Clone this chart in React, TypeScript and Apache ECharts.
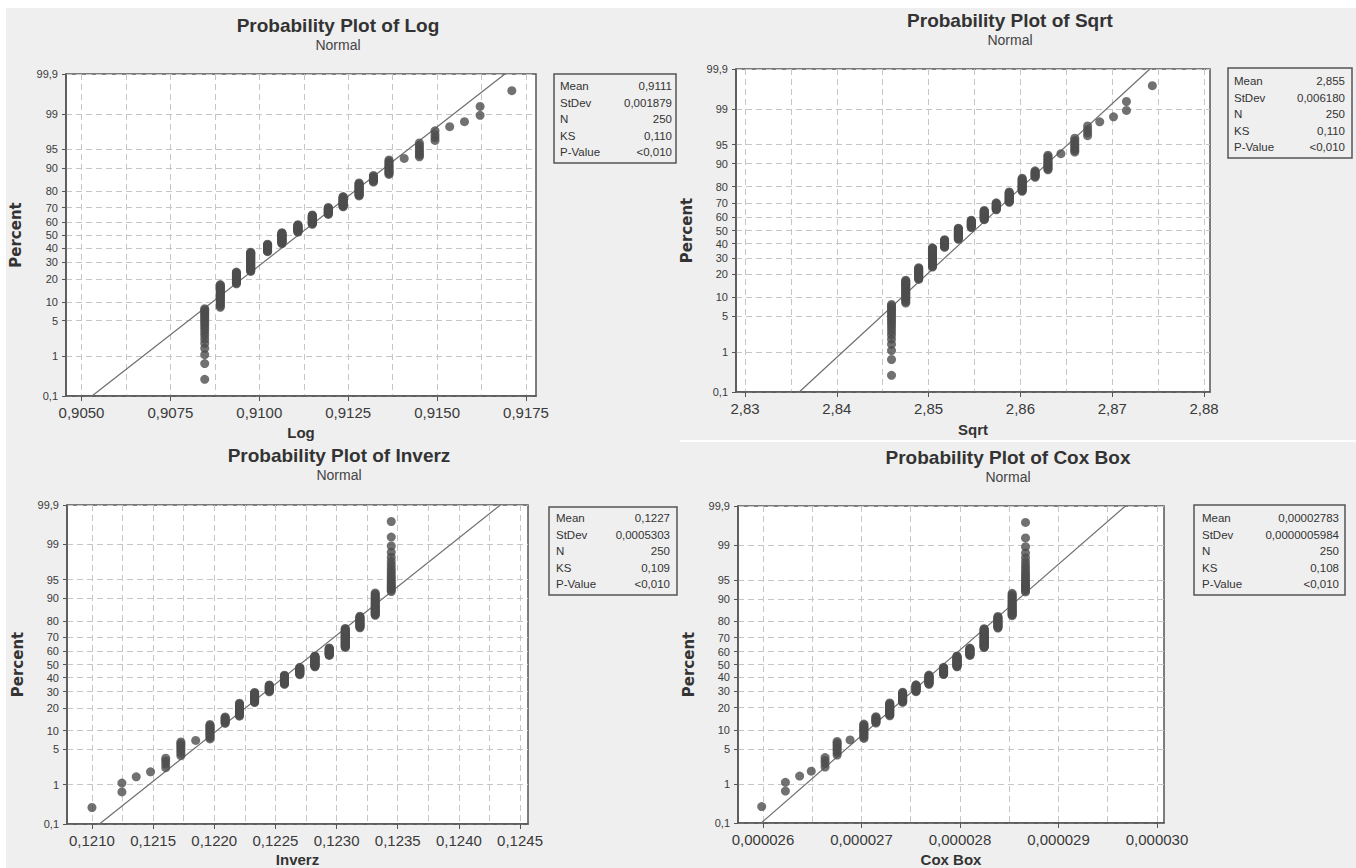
import React, { useEffect, useRef } from "react";
import * as echarts from "echarts";

// ---------- data ----------
const percentTicks = [0.1, 1, 5, 10, 20, 30, 40, 50, 60, 70, 80, 90, 95, 99, 99.9];
const percentLabels = ["0,1", "1", "5", "10", "20", "30", "40", "50", "60", "70", "80", "90", "95", "99", "99,9"];
const statNames = ["Mean", "StDev", "N", "KS", "P-Value"];

// Log
const logValues = [0.908465, 0.908903, 0.909356, 0.909758, 0.910233, 0.910636, 0.911085, 0.91149, 0.91194, 0.912357, 0.912806, 0.913209, 0.913647, 0.914075, 0.914502, 0.914941, 0.915354, 0.91577, 0.916209, 0.917101];
const logCounts = [20, 23, 17, 33, 15, 22, 15, 18, 13, 17, 18, 8, 13, 1, 8, 4, 1, 1, 2, 1];
const logMean = 0.9111;
const logStDev = 0.001879;
const logStats = ["0,9111", "0,001879", "250", "0,110", "<0,010"];
const logTicks = [0.905, 0.9075, 0.91, 0.9125, 0.915, 0.9175];
const logGridlines = [0.905, 0.90625, 0.9075, 0.90875, 0.91, 0.91125, 0.9125, 0.91375, 0.915, 0.91625, 0.9175];

// Sqrt
const sqrtValues = [2.84596, 2.84751, 2.84892, 2.85042, 2.85174, 2.85324, 2.85465, 2.85606, 2.85737, 2.85878, 2.86019, 2.8616, 2.863, 2.86441, 2.86592, 2.86732, 2.86864, 2.87014, 2.87155, 2.87437];
const sqrtCounts = [20, 23, 17, 33, 15, 22, 15, 18, 13, 17, 18, 8, 13, 1, 8, 4, 1, 1, 2, 1];
const sqrtMean = 2.855;
const sqrtStDev = 0.00618;
const sqrtStats = ["2,855", "0,006180", "250", "0,110", "<0,010"];
const sqrtTicks = [2.83, 2.84, 2.85, 2.86, 2.87, 2.88];
const sqrtGridlines = [2.83, 2.835, 2.84, 2.845, 2.85, 2.855, 2.86, 2.865, 2.87, 2.875, 2.88];

// Inverz
const inverzValues = [0.121, 0.121245, 0.121362, 0.121479, 0.121603, 0.121727, 0.121848, 0.121965, 0.122089, 0.122206, 0.12233, 0.12245, 0.122574, 0.122699, 0.122823, 0.12294, 0.123071, 0.123191, 0.123316, 0.123447];
const inverzCounts = [1, 2, 1, 1, 4, 8, 1, 13, 8, 18, 17, 13, 18, 15, 22, 15, 33, 17, 23, 20];
const inverzMean = 0.1227;
const inverzStDev = 0.0005303;
const inverzStats = ["0,1227", "0,0005303", "250", "0,109", "<0,010"];
const inverzTicks = [0.121, 0.1215, 0.122, 0.1225, 0.123, 0.1235, 0.124, 0.1245];
const inverzGridlines = [0.121, 0.12125, 0.1215, 0.12175, 0.122, 0.12225, 0.1225, 0.12275, 0.123, 0.12325, 0.1235, 0.12375, 0.124, 0.12425, 0.1245];

// Cox Box
const coxValues = [2.59869e-5, 2.62276e-5, 2.6372e-5, 2.64902e-5, 2.66302e-5, 2.67527e-5, 2.6884e-5, 2.70241e-5, 2.71466e-5, 2.72867e-5, 2.7418e-5, 2.75536e-5, 2.76849e-5, 2.78337e-5, 2.79694e-5, 2.81007e-5, 2.82451e-5, 2.83851e-5, 2.85295e-5, 2.86652e-5];
const coxCounts = [1, 2, 1, 1, 4, 8, 1, 13, 8, 18, 17, 13, 18, 15, 22, 15, 33, 17, 23, 20];
const coxMean = 2.783e-5;
const coxStDev = 5.984e-7;
const coxStats = ["0,00002783", "0,0000005984", "250", "0,108", "<0,010"];
const coxTicks = [2.6e-5, 2.7e-5, 2.8e-5, 2.9e-5, 3.0e-5];
const coxGridlines = [2.6e-5, 2.65e-5, 2.7e-5, 2.75e-5, 2.8e-5, 2.85e-5, 2.9e-5, 2.95e-5, 3.0e-5];

// ---------- helpers ----------
function invNorm(p: number): number {
  const a = [-3.969683028665376e1, 2.209460984245205e2, -2.759285104469687e2, 1.38357751867269e2, -3.066479806614716e1, 2.506628277459239];
  const b = [-5.447609879822406e1, 1.615858368580409e2, -1.556989798598866e2, 6.680131188771972e1, -1.328068155288572e1];
  const c = [-7.784894002430293e-3, -3.223964580411365e-1, -2.400758277161838, -2.549671348593902, 4.374664141464968, 2.938163982698783];
  const d = [7.784695709041462e-3, 3.224671290700398e-1, 2.445134137142996, 3.754408361340288];
  const pl = 0.02425;
  if (p < pl) {
    const q = Math.sqrt(-2 * Math.log(p));
    return (((((c[0] * q + c[1]) * q + c[2]) * q + c[3]) * q + c[4]) * q + c[5]) / ((((d[0] * q + d[1]) * q + d[2]) * q + d[3]) * q + 1);
  }
  if (p > 1 - pl) {
    const q = Math.sqrt(-2 * Math.log(1 - p));
    return -(((((c[0] * q + c[1]) * q + c[2]) * q + c[3]) * q + c[4]) * q + c[5]) / ((((d[0] * q + d[1]) * q + d[2]) * q + d[3]) * q + 1);
  }
  const q = p - 0.5;
  const r = q * q;
  return ((((((a[0] * r + a[1]) * r + a[2]) * r + a[3]) * r + a[4]) * r + a[5]) * q) / (((((b[0] * r + b[1]) * r + b[2]) * r + b[3]) * r + b[4]) * r + 1);
}

const zTicks = percentTicks.map((p) => invNorm(p / 100));
const zMin = zTicks[0];
const zMax = zTicks[zTicks.length - 1];

function percentLabel(v: number): string {
  let best = 0;
  for (let i = 1; i < zTicks.length; i++) if (Math.abs(zTicks[i] - v) < Math.abs(zTicks[best] - v)) best = i;
  return percentLabels[best];
}

function probPoints(values: number[], counts: number[]): number[][] {
  const n = counts.reduce((s, c) => s + c, 0);
  const pts: number[][] = [];
  let rank = 0;
  values.forEach((v, i) => {
    for (let k = 0; k < counts[i]; k++) {
      rank += 1;
      pts.push([v, invNorm((rank - 0.3) / (n + 0.4))]);
    }
  });
  return pts;
}

const FONT = '"Liberation Sans", Arial, sans-serif';

interface Panel {
  title: string;
  name: string;
  values: number[];
  counts: number[];
  mean: number;
  sd: number;
  stats: string[];
  ticks: number[];
  gridlines: number[];
  decimals: number;
  min: number;
  max: number;
  grid: { left: number; top: number; width: number; height: number };
  titleX: number;
  titleY: number;
  box: { x: number; y: number; w: number; h: number; lx: number; rx: number; row0: number };
  nameGapX: number;
  nameGapY: number;
}

const panels: Panel[] = [
  {
    title: "Probability Plot of Log", name: "Log",
    values: logValues, counts: logCounts, mean: logMean, sd: logStDev, stats: logStats,
    ticks: logTicks, gridlines: logGridlines, decimals: 4, min: 0.904564, max: 0.917781,
    grid: { left: 66, top: 74, width: 470, height: 322 },
    titleX: 338, titleY: 25,
    box: { x: 554, y: 74, w: 122, h: 89, lx: 560, rx: 672, row0: 86 },
    nameGapX: 29, nameGapY: 43,
  },
  {
    title: "Probability Plot of Sqrt", name: "Sqrt",
    values: sqrtValues, counts: sqrtCounts, mean: sqrtMean, sd: sqrtStDev, stats: sqrtStats,
    ticks: sqrtTicks, gridlines: sqrtGridlines, decimals: 2, min: 2.82902, max: 2.88065,
    grid: { left: 736, top: 69, width: 474, height: 323 },
    titleX: 1010, titleY: 20,
    box: { x: 1228, y: 68, w: 124, h: 90, lx: 1234, rx: 1345, row0: 81 },
    nameGapX: 30, nameGapY: 42,
  },
  {
    title: "Probability Plot of Inverz", name: "Inverz",
    values: inverzValues, counts: inverzCounts, mean: inverzMean, sd: inverzStDev, stats: inverzStats,
    ticks: inverzTicks, gridlines: inverzGridlines, decimals: 4, min: 0.120796, max: 0.124565,
    grid: { left: 67, top: 505, width: 461, height: 322 },
    titleX: 339, titleY: 455,
    box: { x: 549, y: 507, w: 128, h: 88, lx: 556, rx: 670, row0: 518 },
    nameGapX: 28, nameGapY: 42,
  },
  {
    title: "Probability Plot of Cox Box", name: "Cox Box",
    values: coxValues, counts: coxCounts, mean: coxMean, sd: coxStDev, stats: coxStats,
    ticks: coxTicks, gridlines: coxGridlines, decimals: 6, min: 2.57462e-5, max: 3.00711e-5,
    grid: { left: 738, top: 506, width: 426, height: 319 },
    titleX: 1008, titleY: 457,
    box: { x: 1194, y: 505, w: 151, h: 90, lx: 1202, rx: 1339, row0: 518 },
    nameGapX: 29, nameGapY: 42,
  },
];

function buildOption() {
  const grid: any[] = [];
  const xAxis: any[] = [];
  const yAxis: any[] = [];
  const series: any[] = [];
  const graphic: any[] = [
    { type: "rect", silent: true, shape: { x: 0, y: 0, width: 1356, height: 8 }, style: { fill: "#ffffff" } },
    { type: "rect", silent: true, shape: { x: 0, y: 0, width: 6, height: 868 }, style: { fill: "#ffffff" } },
    { type: "rect", silent: true, shape: { x: 680, y: 440, width: 676, height: 2 }, style: { fill: "#ffffff" } },
  ];

  panels.forEach((p, k) => {
    grid.push({
      ...p.grid,
      show: true,
      backgroundColor: "#ffffff",
      borderColor: "#555555",
      borderWidth: 1.5,
      containLabel: false,
    });
    const fmt = (v: number) => v.toFixed(p.decimals).replace(".", ",");
    xAxis.push({
      gridIndex: k,
      type: "value",
      position: "bottom",
      min: p.min,
      max: p.max,
      name: p.name,
      nameLocation: "middle",
      nameGap: p.nameGapX,
      nameTextStyle: { fontSize: 15, fontWeight: "bold", color: "#333", fontFamily: FONT },
      axisLine: { show: true, onZero: false, lineStyle: { color: "#555555", width: 1.5 } },
      axisTick: { show: true, length: 5, customValues: p.ticks, lineStyle: { color: "#555555", width: 1 } },
      axisLabel: { customValues: p.ticks, formatter: fmt, fontSize: 15, color: "#3a3a3a", margin: 9, fontFamily: FONT },
      splitLine: { show: false },
    });
    xAxis.push({
      gridIndex: k,
      type: "value",
      position: "top",
      min: p.min,
      max: p.max,
      axisLine: { show: false, onZero: false },
      axisTick: { show: false, customValues: p.gridlines },
      axisLabel: { show: false, customValues: p.gridlines },
      splitLine: { show: true, lineStyle: { color: "#c6c6c6", type: [6, 4], width: 1 } },
    });
    yAxis.push({
      gridIndex: k,
      type: "value",
      min: zMin,
      max: zMax,
      name: "Percent",
      nameLocation: "middle",
      nameRotate: 90,
      nameGap: p.nameGapY,
      nameTextStyle: { fontSize: 15, fontWeight: "bold", color: "#333", fontFamily: "DejaVu Sans, sans-serif" },
      axisLine: { show: true, onZero: false, lineStyle: { color: "#555555", width: 1.5 } },
      axisTick: { show: true, length: 4, customValues: zTicks, lineStyle: { color: "#555555", width: 1 } },
      axisLabel: { customValues: zTicks, formatter: percentLabel, fontSize: 11, color: "#3a3a3a", margin: 8, fontFamily: FONT },
      splitLine: { show: true, lineStyle: { color: "#c6c6c6", type: [6, 4], width: 1 } },
    });
    series.push({
      type: "line",
      xAxisIndex: 2 * k,
      yAxisIndex: k,
      data: [
        [p.mean + zMin * p.sd, zMin],
        [p.mean + zMax * p.sd, zMax],
      ],
      symbol: "none",
      lineStyle: { color: "#6e6e6e", width: 1.2 },
      silent: true,
      clip: true,
      z: 2,
    });
    series.push({
      type: "scatter",
      xAxisIndex: 2 * k,
      yAxisIndex: k,
      data: probPoints(p.values, p.counts),
      symbol: "circle",
      symbolSize: 9,
      itemStyle: { color: "#4d4d4d" },
      z: 3,
    });

    graphic.push({
      type: "text", silent: true, x: p.titleX, y: p.titleY,
      style: { text: p.title, fill: "#333", fontSize: 19, fontWeight: "bold", fontFamily: FONT, textAlign: "center", textVerticalAlign: "middle" },
    });
    graphic.push({
      type: "text", silent: true, x: p.titleX, y: p.titleY + 20,
      style: { text: "Normal", fill: "#444", fontSize: 14, fontFamily: FONT, textAlign: "center", textVerticalAlign: "middle" },
    });
    const b = p.box;
    graphic.push({
      type: "rect", silent: true,
      shape: { x: b.x, y: b.y, width: b.w, height: b.h },
      style: { fill: "none", stroke: "#555555", lineWidth: 1.5 },
    });
    statNames.forEach((s, i) => {
      const y = b.row0 + i * 16.5;
      graphic.push({
        type: "text", silent: true, x: b.lx, y,
        style: { text: s, fill: "#333", fontSize: 11.5, fontFamily: FONT, textAlign: "left", textVerticalAlign: "middle" },
      });
      graphic.push({
        type: "text", silent: true, x: b.rx, y,
        style: { text: p.stats[i], fill: "#333", fontSize: 11.5, fontFamily: FONT, textAlign: "right", textVerticalAlign: "middle" },
      });
    });
  });

  return {
    animation: false,
    backgroundColor: "#efefef",
    textStyle: { fontFamily: FONT },
    grid,
    xAxis,
    yAxis,
    series,
    graphic,
  };
}

export default function App() {
  const ref = useRef<HTMLDivElement>(null);
  useEffect(() => {
    document.body.style.margin = "0";
    const chart = echarts.init(ref.current as HTMLDivElement, null, { renderer: "svg" });
    chart.setOption(buildOption() as any);
    return () => chart.dispose();
  }, []);
  return <div ref={ref} style={{ width: 1356, height: 868 }} />;
}
